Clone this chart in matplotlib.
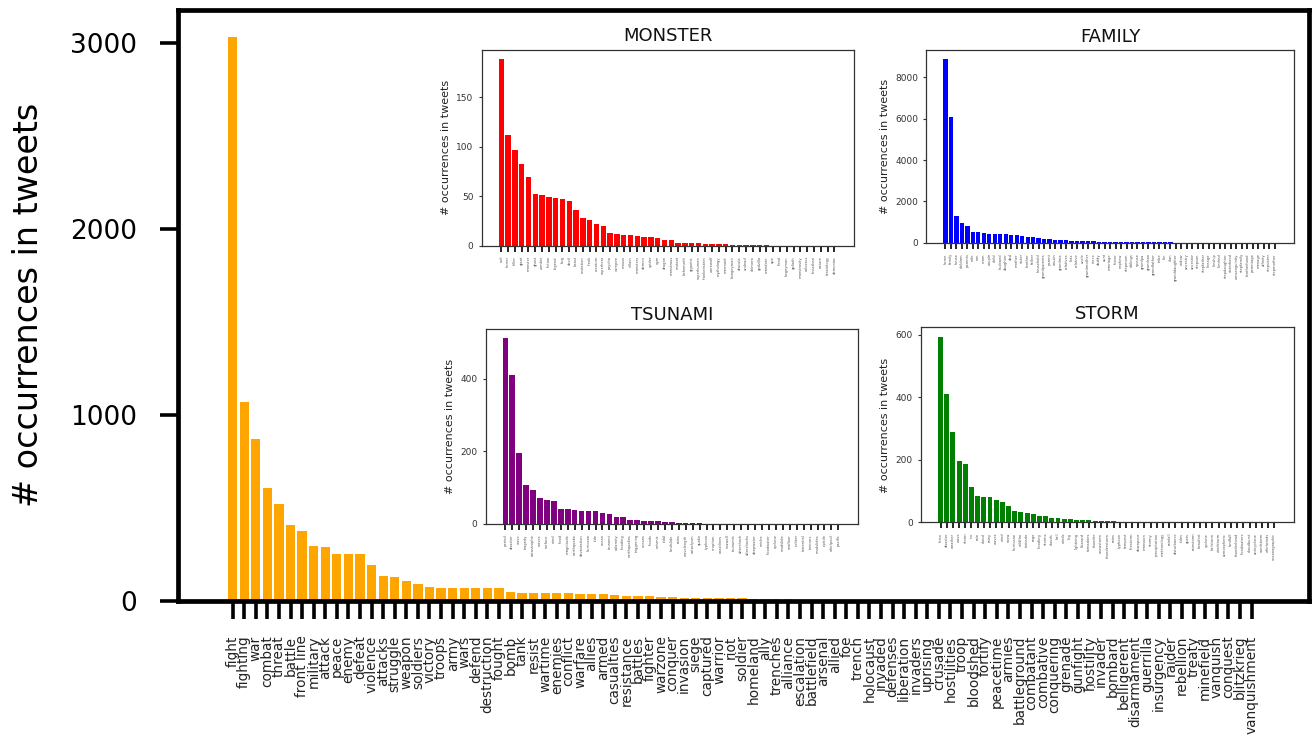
import matplotlib.pyplot as plt
import numpy as np

# main chart: war related words
war_words = ['fight', 'fighting', 'war', 'combat', 'threat', 'battle', 'front line', 'military',
             'attack', 'peace', 'enemy', 'defeat', 'violence', 'attacks', 'struggle', 'weapon',
             'soldiers', 'victory', 'troops', 'army', 'wars', 'defend', 'destruction', 'fought',
             'bomb', 'tank', 'resist', 'wartime', 'enemies', 'conflict', 'warfare', 'allies',
             'armed', 'casualties', 'resistance', 'battles', 'fighter', 'warzone', 'conquer',
             'invasion', 'siege', 'captured', 'warrior', 'riot', 'soldier', 'homeland', 'ally',
             'trenches', 'alliance', 'escalation', 'battlefield', 'arsenal', 'allied', 'foe',
             'trench', 'holocaust', 'invaded', 'defenses', 'liberation', 'invaders', 'uprising',
             'crusade', 'hostilities', 'troop', 'bloodshed', 'fortify', 'peacetime', 'armies',
             'battleground', 'combatant', 'combative', 'conquering', 'grenade', 'gunfight',
             'hostility', 'invader', 'bombard', 'belligerent', 'disarmament', 'guerrilla',
             'insurgency', 'raider', 'rebellion', 'treaty', 'minefield', 'vanquish', 'conquest',
             'blitzkrieg', 'vanquishment']
war_counts = [3030, 1066, 869, 609, 521, 408, 375, 296, 287, 253, 253, 253, 195, 136, 129, 106,
              90, 75, 68, 68, 68, 68, 68, 68, 48, 45, 45, 44, 41, 40, 39, 37, 36, 30, 28, 26, 25,
              20, 19, 18, 17, 16, 15, 14, 13, 12, 11, 10, 8, 7, 6, 5, 4, 3, 2, 2, 2, 1, 1, 1, 1,
              1, 1, 1, 1, 1, 1, 1, 1, 1, 1, 1, 1, 1, 1, 1, 0, 0, 0, 0, 0, 0, 0, 0, 0, 0, 0, 0, 0]

# inset charts
monster_words = ['evil', 'horror', 'killer', 'giant', 'monster', 'ghost', 'zombie', 'fiction',
                 'legend', 'bug', 'devil', 'beast', 'mutation', 'freak', 'creature', 'superhero',
                 'psycho', 'vampire', 'mouse', 'villain', 'monsters', 'demon', 'spider', 'ogre',
                 'dragon', 'monstrous', 'mutant', 'behemoth', 'gigantic', 'superhuman',
                 'frankenstein', 'werewolf', 'mythology', 'mermaid', 'boogeyman', 'dracula',
                 'undead', 'chimera', 'godzilla', 'mandate', 'ape', 'fiend', 'bogeyman', 'goliath',
                 'monstrosity', 'colossus', 'leviathan', 'nature', 'teratology', 'demoniac']
monster_counts = [189, 112, 97, 83, 70, 52, 51, 49, 48, 47, 45, 36, 28, 26, 22, 20, 13, 12, 11,
                  11, 10, 9, 9, 8, 6, 6, 3, 3, 3, 3, 2, 2, 2, 2, 1, 1, 1, 1, 1, 1,
                  0, 0, 0, 0, 0, 0, 0, 0, 0, 0]

family_words = ['home', 'family', 'house', 'children', 'parents', 'wife', 'son', 'mom', 'couple',
                'child', 'husband', 'daughter', 'dad', 'mother', 'sister', 'brother', 'father',
                'household', 'grandparents', 'parent', 'cousin', 'grandma', 'relatives', 'kids',
                'relative', 'uncle', 'grandmother', 'niece', 'daddy', 'aunt', 'marriage', 'foster',
                'nephew', 'stepmom', 'siblings', 'spouse', 'grandpa', 'grandson', 'grandfather',
                'tribe', 'kin', 'clan', 'granddaughter', 'widow', 'ancestry', 'ancestor', 'stepson',
                'stepfather', 'lineage', 'kinship', 'kindred', 'stepdaughter', 'sisterhood',
                'consanguinity', 'stepfamily', 'brotherhood', 'parentage', 'menage', 'affinity',
                'stepsister', 'stepmother']
family_counts = [8870, 6100, 1300, 935, 790, 516, 500, 450, 430, 420, 410, 400, 370, 350, 330,
                 300, 280, 250, 190, 170, 150, 130, 120, 100, 90, 80, 70, 60, 55, 50, 45, 40, 35,
                 30, 28, 25, 22, 20, 18, 16, 14, 12, 10, 9, 8, 7, 6, 5, 5, 4, 4, 3, 3, 2, 2, 2,
                 1, 1, 1, 1, 0]

tsunami_words = ['period', 'disaster', 'wave', 'tragedy', 'catastrophe', 'waves', 'surface', 'wind',
                 'flood', 'magnitude', 'earthquake', 'devastation', 'hurricane', 'tide', 'ocean',
                 'tsunami', 'calamity', 'flooding', 'earthquakes', 'triggering', 'oceans', 'floods',
                 'seismic', 'tidal', 'landslide', 'rains', 'wavelength', 'cataclysm', 'quake',
                 'typhoon', 'eruption', 'coastlines', 'seawall', 'tsunamis', 'aftershock',
                 'aftershocks', 'deepwater', 'seiche', 'floodwater', 'cyclone', 'mudslide',
                 'seafloor', 'richter', 'torrential', 'tremors', 'mudslides', 'riptide',
                 'whirlpool', 'pacific']
tsunami_counts = [512, 409, 196, 108, 92, 71, 65, 62, 42, 41, 38, 36, 36, 36, 30, 28, 20, 20, 11,
                  11, 9, 9, 8, 5, 4, 3, 2, 2, 2, 1, 1, 1, 1, 1, 0, 0, 0, 0, 0, 0, 0, 0, 0, 0, 0,
                  0, 0, 0, 0]

storm_words = ['force', 'disaster', 'weather', 'wave', 'storm', 'ice', 'rain', 'cloud', 'rainy',
               'waves', 'wind', 'snow', 'hurricane', 'wildfire', 'tornado', 'rage', 'flooding',
               'storms', 'clouds', 'hail', 'winds', 'fog', 'lightning', 'blizzard', 'tornadoes',
               'thunder', 'snowstorm', 'thunderstorm', 'rains', 'typhoon', 'tempest', 'firestorm',
               'downpour', 'monsoon', 'stormy', 'precipitation', 'meteorology', 'rainfall',
               'disturbance', 'tides', 'gusts', 'rainstorm', 'beaufort', 'cyclone', 'hailstorm',
               'windstorm', 'atmospheric', 'landfall', 'thunderhead', 'floodwaters', 'cloudburst',
               'anticyclone', 'sandstorm', 'whirlwinds', 'oceanographic']
storm_counts = [593, 409, 288, 196, 186, 113, 83, 82, 81, 72, 64, 53, 37, 34, 29, 27, 21, 19, 15,
                13, 12, 10, 9, 8, 7, 6, 5, 4, 4, 3, 3, 2, 2, 1, 1, 1, 1, 1, 0, 0, 0, 0, 0, 0, 0,
                0, 0, 0, 0, 0, 0, 0, 0, 0, 0]


def inset(fig, rect, title, words, counts, color, yticks):
    ax = fig.add_axes(rect)
    x = np.arange(len(words))
    ax.bar(x, counts, color=color, width=0.8)
    ax.set_xticks(x)
    ax.set_xticklabels(words, rotation=90, fontsize=2.6, color='#555555')
    ax.set_yticks(yticks)
    ax.tick_params(axis='y', labelsize=6.5, length=2.5, width=0.8, colors='#333333')
    ax.tick_params(axis='x', length=4.5, width=1.2, color='black', pad=3)
    ax.set_ylabel('# occurrences in tweets', fontsize=8, color='#222222')
    ax.set_title(title, fontsize=13, color='#111111')
    for s in ax.spines.values():
        s.set_linewidth(0.9)
        s.set_color('#333333')
    return ax


fig = plt.figure(figsize=(13.16, 7.4), dpi=100)
ax = fig.add_axes([0.135, 0.188, 0.860, 0.799])

x = np.arange(len(war_words))
ax.bar(x, war_counts, color='#ffa500', width=0.8)
ax.set_xlim(-4.75, len(war_words) - 1 + 5.0)
ax.set_ylim(0, 3177)
ax.set_xticks(x)
ax.set_xticklabels(war_words, rotation=90, fontsize=9.8, color='#222222')
ax.set_yticks([0, 1000, 2000, 3000])
ax.tick_params(axis='x', length=13, width=2.6, pad=12)
ax.tick_params(axis='y', length=13, width=2.6, labelsize=19, pad=16)
ax.set_ylabel('# occurrences in tweets', fontsize=24, labelpad=18)
for s in ax.spines.values():
    s.set_linewidth(3.4)

inset(fig, [0.366, 0.668, 0.283, 0.265], 'MONSTER', monster_words, monster_counts,
      '#ff0000', [0, 50, 100, 150])
inset(fig, [0.704, 0.672, 0.279, 0.260], 'FAMILY', family_words, family_counts,
      '#0000ff', [0, 2000, 4000, 6000, 8000])
inset(fig, [0.369, 0.292, 0.283, 0.264], 'TSUNAMI', tsunami_words, tsunami_counts,
      '#800080', [0, 200, 400])
inset(fig, [0.700, 0.294, 0.283, 0.2635], 'STORM', storm_words, storm_counts,
      '#008000', [0, 200, 400, 600])

fig.savefig('out.png', dpi=100)
